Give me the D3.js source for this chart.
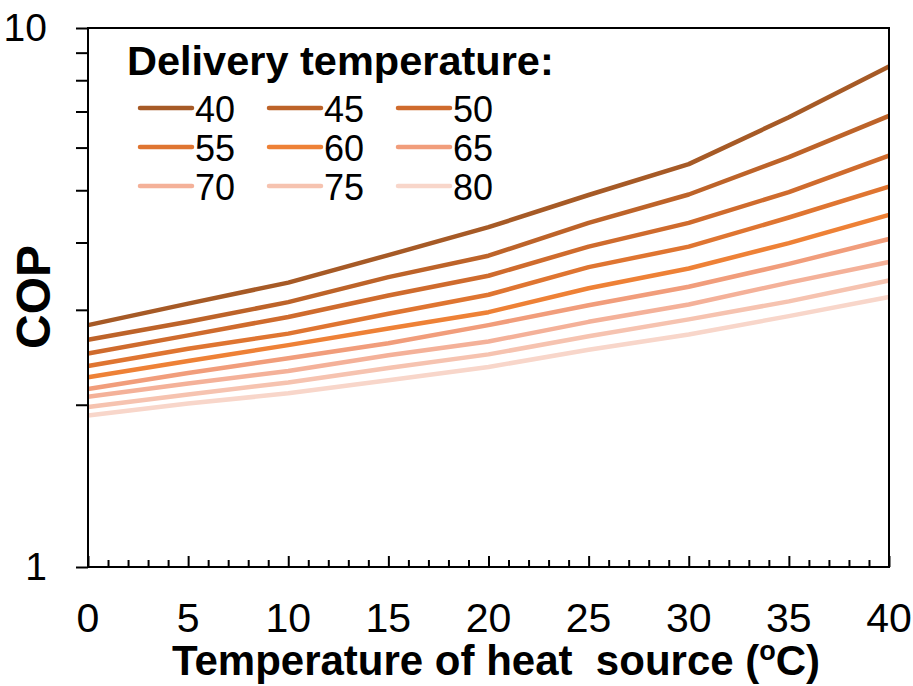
<!DOCTYPE html>
<html>
<head>
<meta charset="utf-8">
<script src="https://cdn.jsdelivr.net/npm/d3@7/dist/d3.min.js"></script>
<style>
  html, body { margin: 0; padding: 0; background: #fff; }
  svg { display: block; font-family: "Liberation Sans", Arial, sans-serif; }
</style>
</head>
<body>
<svg id="chart" width="913" height="686"></svg>
<script>
// Heat source temperature (ºC) on the x axis
const sourceTemps = [0, 5, 10, 15, 20, 25, 30, 35, 40];

// Delivery temperatures (ºC), one curve each
const deliveryTemps = [40, 45, 50, 55, 60, 65, 70, 75, 80];

// COP for each delivery temperature, sampled at sourceTemps
const cop40 = [2.81, 3.08, 3.37, 3.79, 4.27, 4.90, 5.59, 6.83, 8.48];
const cop45 = [2.64, 2.85, 3.10, 3.45, 3.78, 4.35, 4.91, 5.76, 6.87];
const cop50 = [2.49, 2.69, 2.91, 3.19, 3.47, 3.93, 4.35, 4.96, 5.80];
const cop55 = [2.36, 2.54, 2.71, 2.95, 3.20, 3.60, 3.93, 4.45, 5.08];
const cop60 = [2.25, 2.41, 2.58, 2.77, 2.97, 3.29, 3.58, 3.99, 4.50];
const cop65 = [2.14, 2.29, 2.44, 2.60, 2.81, 3.06, 3.31, 3.65, 4.06];
const cop70 = [2.07, 2.19, 2.31, 2.47, 2.62, 2.85, 3.07, 3.37, 3.68];
const cop75 = [1.98, 2.09, 2.20, 2.34, 2.48, 2.68, 2.88, 3.11, 3.40];
const cop80 = [1.91, 2.01, 2.10, 2.22, 2.35, 2.53, 2.70, 2.92, 3.17];

const copSeries = [cop40, cop45, cop50, cop55, cop60, cop65, cop70, cop75, cop80];

const seriesColors = ["#a65a26", "#bd6329", "#cf6b2d", "#df7531", "#ee8136",
                      "#f19d7b", "#f4b199", "#f6c3b0", "#f8d6ca"];

// Axis ticks
const yTickLabels = [1, 10];
const yTicks = [1, 2, 3, 4, 5, 6, 7, 8, 9, 10];
const xTickLabels = [0, 5, 10, 15, 20, 25, 30, 35, 40];
const xMinorTicks = d3.range(0, 41, 1);

const svg = d3.select("#chart");
const plotLeft = 88, plotRight = 889, plotTop = 28, plotBottom = 567;

const x = d3.scaleLinear().domain([0, 40]).range([plotLeft, plotRight]);
const y = d3.scaleLog().domain([1, 10]).range([plotBottom, plotTop]);

// Curves
const line = d3.line()
  .x((d, i) => x(sourceTemps[i]))
  .y(d => y(d));

svg.append("g")
  .selectAll("path")
  .data(copSeries)
  .join("path")
  .attr("d", d => line(d))
  .attr("fill", "none")
  .attr("stroke", (d, i) => seriesColors[i])
  .attr("stroke-width", 4.5)
  .attr("stroke-linejoin", "round");

// Frame
svg.append("rect")
  .attr("x", plotLeft).attr("y", plotTop)
  .attr("width", plotRight - plotLeft).attr("height", plotBottom - plotTop)
  .attr("fill", "none").attr("stroke", "#000").attr("stroke-width", 2);

// Y axis: outward ticks at every integer, labels at 1 and 10
const yAxis = d3.axisLeft(y)
  .tickValues(yTicks)
  .tickSize(12)
  .tickFormat(d => yTickLabels.includes(d) ? d : "");
const gy = svg.append("g").attr("transform", `translate(${plotLeft},0)`).call(yAxis);
gy.select(".domain").remove();
gy.selectAll(".tick line").attr("stroke", "#000").attr("stroke-width", 2);
gy.selectAll(".tick text")
  .attr("x", -41)
  .attr("font-size", 39)
  .attr("font-family", "'Liberation Sans', Arial, sans-serif")
  .attr("fill", "#000");

// X axis: inward minor ticks every 1, longer ticks every 5
const xMinor = d3.axisTop(x)
  .tickValues(xMinorTicks.filter(v => v % 5 !== 0))
  .tickSize(7)
  .tickFormat("");
const gxm = svg.append("g").attr("transform", `translate(0,${plotBottom})`).call(xMinor);
gxm.select(".domain").remove();
gxm.selectAll(".tick line").attr("stroke", "#000").attr("stroke-width", 2);

const xMajor = d3.axisTop(x)
  .tickValues(xTickLabels)
  .tickSize(11)
  .tickFormat("");
const gxM = svg.append("g").attr("transform", `translate(0,${plotBottom})`).call(xMajor);
gxM.select(".domain").remove();
gxM.selectAll(".tick line").attr("stroke", "#000").attr("stroke-width", 2);

svg.append("g")
  .selectAll("text")
  .data(xTickLabels)
  .join("text")
  .attr("x", d => x(d))
  .attr("y", 632)
  .attr("text-anchor", "middle")
  .attr("font-size", 41)
  .attr("fill", "#000")
  .text(d => d);

// Axis titles
const xt = svg.append("text")
  .attr("x", 496).attr("y", 675)
  .attr("text-anchor", "middle")
  .attr("font-size", 42)
  .attr("font-weight", "bold")
  .style("white-space", "pre");
xt.append("tspan").text("Temperature of heat  source (");
xt.append("tspan").attr("font-size", 27).attr("dy", -15).text("o");
xt.append("tspan").attr("dy", 15).text("C)");

svg.append("text")
  .attr("transform", "translate(50,297) rotate(-90)")
  .attr("text-anchor", "middle")
  .attr("font-size", 48)
  .attr("font-weight", "bold")
  .text("COP");

// Legend
svg.append("text")
  .attr("x", 127).attr("y", 75)
  .attr("font-size", 41.5)
  .attr("font-weight", "bold")
  .text("Delivery temperature:");

const legend = svg.append("g")
  .selectAll("g")
  .data(deliveryTemps)
  .join("g")
  .attr("transform", (d, i) => `translate(${140 + (i % 3) * 129},${108 + Math.floor(i / 3) * 39})`);

legend.append("line")
  .attr("x1", 0).attr("x2", 52)
  .attr("y1", 0).attr("y2", 0)
  .attr("stroke", (d, i) => seriesColors[i])
  .attr("stroke-width", 4.5)
  .attr("stroke-linecap", "round");

legend.append("text")
  .attr("x", 55).attr("y", 13.5)
  .attr("font-size", 36)
  .attr("fill", "#000")
  .text(d => d);
</script>
</body>
</html>
